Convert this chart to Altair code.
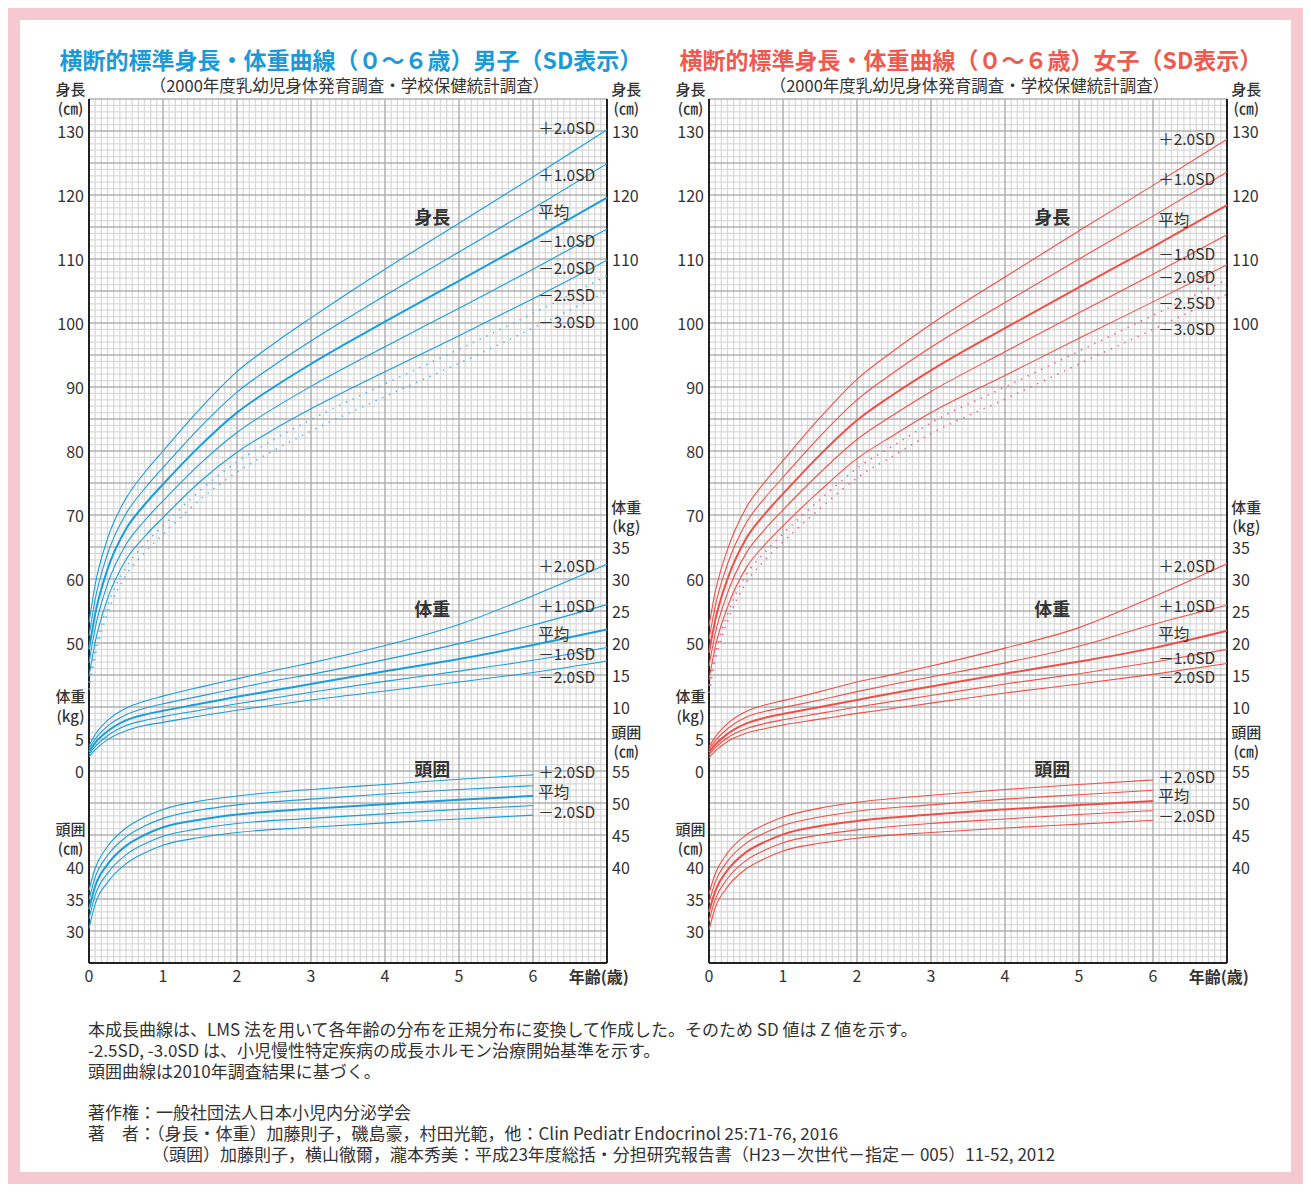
import altair as alt
import pandas as pd

FONT = "Noto Sans CJK JP"
TXT = "#333333"

# ---------------- data ----------------
AGES = [0, 0.083, 0.25, 0.5, 0.75, 1, 1.5, 2, 2.5, 3, 4, 5, 6, 7]
HEAD_AGES = [0, 0.083, 0.25, 0.5, 0.75, 1, 1.5, 2, 3, 4, 5, 6]
SD_NAMES = ["+2", "+1", "0", "-1", "-2", "-2.5", "-3"]
WEIGHT_OFFSET = 30   # weight kg drawn on the height scale at kg + 30
HEAD_OFFSET = -25    # head cm drawn on the height scale at cm - 25

# boys height (cm)
BH_P2 = [53.2, 59.1, 66.3, 72.6, 76.6, 80.0, 86.6, 92.4, 96.8, 100.8, 108.4, 115.6, 122.8, 130.2]
BH_P1 = [51.1, 56.8, 63.9, 70.2, 74.1, 77.4, 83.7, 89.2, 93.4, 97.2, 104.3, 111.1, 117.9, 124.9]
BH_M = [49.0, 54.5, 61.5, 67.8, 71.6, 74.8, 80.8, 86.0, 90.0, 93.6, 100.2, 106.6, 113.0, 119.6]
BH_M1 = [46.9, 52.3, 59.2, 65.4, 69.1, 72.2, 78.0, 82.9, 86.7, 90.1, 96.3, 102.3, 108.4, 114.7]
BH_M2 = [44.8, 50.1, 56.9, 63.0, 66.6, 69.6, 75.2, 79.8, 83.4, 86.6, 92.4, 98.0, 103.8, 109.8]
BH_M25 = [43.8, 49.0, 55.8, 61.8, 65.4, 68.3, 73.8, 78.3, 81.8, 84.9, 90.5, 95.9, 101.5, 107.4]
BH_M3 = [42.7, 47.9, 54.6, 60.6, 64.1, 67.0, 72.4, 76.7, 80.1, 83.1, 88.5, 93.7, 99.2, 104.9]
# boys weight (kg)
BW_P2 = [3.9, 5.7, 7.9, 9.8, 10.9, 11.7, 13.1, 14.4, 15.7, 16.9, 19.6, 22.9, 27.4, 32.3]
BW_P1 = [3.5, 5.0, 7.0, 8.8, 9.8, 10.5, 11.7, 12.9, 14.1, 15.1, 17.4, 19.9, 22.8, 26.0]
BW_M = [3.0, 4.4, 6.2, 7.9, 8.8, 9.4, 10.5, 11.6, 12.6, 13.6, 15.6, 17.5, 19.7, 22.1]
BW_M1 = [2.6, 3.8, 5.5, 7.1, 7.9, 8.5, 9.5, 10.5, 11.4, 12.3, 14.0, 15.6, 17.3, 19.3]
BW_M2 = [2.2, 3.3, 4.9, 6.3, 7.1, 7.6, 8.6, 9.5, 10.3, 11.1, 12.5, 13.9, 15.4, 17.2]
# boys head circumference (cm)
BC_P2 = [36.4, 39.8, 43.2, 46.1, 47.8, 49.0, 50.3, 51.1, 52.1, 52.9, 53.7, 54.4]
BC_P1 = [34.9, 38.4, 41.8, 44.7, 46.4, 47.6, 48.9, 49.7, 50.6, 51.4, 52.1, 52.7]
BC_M = [33.4, 37.0, 40.4, 43.3, 45.0, 46.2, 47.4, 48.2, 49.1, 49.8, 50.5, 51.1]
BC_M1 = [31.9, 35.6, 39.0, 41.9, 43.6, 44.8, 46.0, 46.8, 47.6, 48.3, 49.0, 49.6]
BC_M2 = [30.4, 34.2, 37.6, 40.5, 42.2, 43.4, 44.6, 45.4, 46.2, 46.9, 47.5, 48.1]

# girls height (cm)
GH_P2 = [52.7, 57.9, 64.6, 71.1, 75.1, 78.5, 85.2, 91.2, 95.7, 99.8, 107.2, 114.4, 121.5, 128.7]
GH_P1 = [50.6, 55.7, 62.3, 68.7, 72.6, 75.9, 82.3, 88.0, 92.3, 96.2, 103.2, 110.0, 116.7, 123.6]
GH_M = [48.5, 53.5, 60.0, 66.3, 70.1, 73.3, 79.4, 84.8, 88.9, 92.6, 99.2, 105.6, 111.9, 118.4]
GH_M1 = [46.4, 51.4, 57.8, 64.0, 67.7, 70.8, 76.6, 81.8, 85.7, 89.3, 95.5, 101.6, 107.6, 113.8]
GH_M2 = [44.3, 49.3, 55.6, 61.7, 65.3, 68.3, 73.8, 78.8, 82.5, 86.0, 91.8, 97.6, 103.3, 109.1]
GH_M25 = [43.3, 48.3, 54.5, 60.6, 64.1, 67.1, 72.4, 77.3, 80.9, 84.4, 90.0, 95.6, 101.2, 106.8]
GH_M3 = [42.2, 47.2, 53.4, 59.4, 62.9, 65.8, 71.0, 75.8, 79.3, 82.7, 88.1, 93.6, 99.0, 104.5]
# girls weight (kg)
GW_P2 = [3.8, 5.3, 7.4, 9.3, 10.3, 11.0, 12.4, 13.9, 15.1, 16.4, 19.2, 22.4, 27.2, 32.4]
GW_P1 = [3.4, 4.7, 6.6, 8.4, 9.3, 9.9, 11.1, 12.4, 13.6, 14.7, 16.9, 19.5, 22.9, 25.9]
GW_M = [2.95, 4.1, 5.8, 7.4, 8.3, 8.9, 10.0, 11.1, 12.2, 13.2, 15.2, 17.1, 19.2, 21.9]
GW_M1 = [2.5, 3.6, 5.2, 6.6, 7.4, 8.0, 9.0, 10.0, 10.9, 11.8, 13.6, 15.2, 17.0, 19.0]
GW_M2 = [2.1, 3.1, 4.6, 5.9, 6.6, 7.2, 8.1, 9.0, 9.8, 10.6, 12.2, 13.6, 15.1, 16.8]
# girls head circumference (cm)
GC_P2 = [35.8, 38.9, 42.2, 45.0, 46.6, 47.8, 49.2, 50.1, 51.2, 52.1, 52.9, 53.6]
GC_P1 = [34.4, 37.6, 40.9, 43.7, 45.3, 46.5, 47.8, 48.7, 49.7, 50.6, 51.3, 52.0]
GC_M = [33.0, 36.2, 39.5, 42.3, 43.9, 45.1, 46.4, 47.2, 48.2, 49.0, 49.7, 50.3]
GC_M1 = [31.6, 34.9, 38.2, 41.0, 42.6, 43.8, 45.0, 45.8, 46.8, 47.5, 48.2, 48.8]
GC_M2 = [30.2, 33.6, 36.9, 39.7, 41.3, 42.5, 43.7, 44.5, 45.4, 46.1, 46.7, 47.3]

# curve labels (text, value on the height scale)
LBL_TEXT_H = ["＋2.0SD", "＋1.0SD", "平均", "－1.0SD", "－2.0SD", "－2.5SD", "－3.0SD"]
LBL_TEXT_W = ["＋2.0SD", "＋1.0SD", "平均", "－1.0SD", "－2.0SD"]
LBL_TEXT_C = ["＋2.0SD", "平均", "－2.0SD"]
B_LBL_H = [130.3, 123.0, 117.2, 112.7, 108.4, 104.2, 100.0]
B_LBL_W = [61.9, 55.6, 51.25, 48.1, 44.5]
B_LBL_C = [29.7, 26.6, 23.4]
G_LBL_H = [128.6, 122.3, 115.9, 110.6, 107.0, 103.0, 98.9]
G_LBL_W = [61.9, 55.6, 51.25, 47.5, 44.5]
G_LBL_C = [28.9, 25.9, 22.8]
LBL_AGE = 6.07

SECTION_TEXT = ["身長", "体重", "頭囲"]
SECTION_V = [116.3, 55.0, 30.0]
SECTION_AGE = 4.64

UNIT_TEXT = ["身長", "(㎝)", "体重", "(kg)", "頭囲", "(㎝)",
             "身長", "(㎝)", "体重", "(kg)", "頭囲", "(㎝)"]
UNIT_AGE = [-0.25] * 6 + [7.26] * 6
UNIT_V = [136.4, 133.4, 41.6, 38.4, 20.8, 17.8,
          136.4, 133.4, 71.1, 68.1, 35.9, 32.9]

# axis tick positions (on the height scale) and their printed labels
LEFT_TICKS = [5, 10, 15, 30, 35, 50, 60, 70, 80, 90, 100, 110, 120, 130]
LEFT_LABELS = ["30", "35", "40", "0", "5", "50", "60", "70", "80", "90", "100", "110", "120", "130"]
RIGHT_TICKS = [15, 20, 25, 30, 40, 45, 50, 55, 60, 65, 100, 110, 120, 130]
RIGHT_LABELS = ["40", "45", "50", "55", "10", "15", "20", "25", "30", "35", "100", "110", "120", "130"]
X_TICKS = [0, 1, 2, 3, 4, 5, 6]
X_LABELS = ["0", "1", "2", "3", "4", "5", "6"]
X_LABEL_V = -2.2

H_MAJOR = list(range(0, 136, 5))
H_MINOR = [v for v in range(0, 136) if v % 5]
V_MAJOR = list(range(0, 8))
V_MINOR = [k / 12 for k in range(0, 85) if k % 12]

TITLE_B = "横断的標準身長・体重曲線（０～６歳）男子（SD表示）"
TITLE_G = "横断的標準身長・体重曲線（０～６歳）女子（SD表示）"
SUBTITLE = "（2000年度乳幼児身体発育調査・学校保健統計調査）"
XTITLE = "年齢(歳)"

FOOT_LINES = [
    "本成長曲線は、LMS 法を用いて各年齢の分布を正規分布に変換して作成した。そのため SD 値は Z 値を示す。",
    "-2.5SD, -3.0SD は、小児慢性特定疾病の成長ホルモン治療開始基準を示す。",
    "頭囲曲線は2010年調査結果に基づく。",
    "",
    "著作権：一般社団法人日本小児内分泌学会",
    "著　者：（身長・体重）加藤則子，磯島豪，村田光範，他：Clin Pediatr Endocrinol 25:71-76, 2016",
    "（頭囲）加藤則子，横山徹爾，瀧本秀美：平成23年度総括・分担研究報告書（H23－次世代－指定－ 005）11-52, 2012",
]
FOOT_INDENT_PX = [0, 0, 0, 0, 0, 0, 64]

W, H = 518, 864
PX_PER_UNIT = H / 135.0
PX_PER_YEAR = W / 7.0
XS = alt.Scale(domain=[0, 7], nice=False, zero=False)
YS = alt.Scale(domain=[0, 135], nice=False, zero=False)


def curve_rows(kind, ages, series, offset):
    rows = []
    for name, vals in series:
        style = "mean" if name == "0" else ("dot" if name in ("-2.5", "-3") else "thin")
        for a, val in zip(ages, vals):
            rows.append({"a": a, "v": val + offset, "key": kind + name, "style": style})
    return rows


def panel(hs, ws, cs, lbl_h, lbl_w, lbl_c, line_color, dot_color, title, title_color, extra):
    rows = []
    rows += curve_rows("h", AGES, zip(SD_NAMES, hs), 0)
    rows += curve_rows("w", AGES, zip(SD_NAMES[:5], ws), WEIGHT_OFFSET)
    rows += curve_rows("c", HEAD_AGES, zip(["+2", "+1", "0", "-1", "-2"], cs), HEAD_OFFSET)
    df = pd.DataFrame(rows)

    xenc = alt.X("a:Q", scale=XS, axis=None)
    yenc = alt.Y("v:Q", scale=YS, axis=None)

    hmin_df = pd.DataFrame({"v": H_MINOR, "a0": 0, "a1": 7})
    hmaj_df = pd.DataFrame({"v": H_MAJOR, "a0": 0, "a1": 7})
    vmin_df = pd.DataFrame({"a": V_MINOR, "v0": 0, "v1": 135})
    vmaj_df = pd.DataFrame({"a": V_MAJOR, "v0": 0, "v1": 135})
    a0 = alt.X("a0:Q", scale=XS, axis=None)
    v0 = alt.Y("v0:Q", scale=YS, axis=None)

    hmin = alt.Chart(hmin_df).mark_rule(color="#d9d9d9", strokeWidth=1.3).encode(y=yenc, x=a0, x2="a1:Q")
    vmin = alt.Chart(vmin_df).mark_rule(color="#d9d9d9", strokeWidth=1.3).encode(x=xenc, y=v0, y2="v1:Q")
    hmaj = alt.Chart(hmaj_df).mark_rule(color="#b0b0b0", strokeWidth=1.5).encode(y=yenc, x=a0, x2="a1:Q")
    vmaj = alt.Chart(vmaj_df).mark_rule(color="#b0b0b0", strokeWidth=1.5).encode(x=xenc, y=v0, y2="v1:Q")
    # black frame edges: left, right, bottom
    vedge = alt.Chart(pd.DataFrame({"a": [0, 7], "v0": 0, "v1": 135})).mark_rule(
        color="#222222", strokeWidth=2).encode(x=xenc, y=v0, y2="v1:Q")
    hedge = alt.Chart(pd.DataFrame({"v": [0], "a0": 0, "a1": 7})).mark_rule(
        color="#222222", strokeWidth=2).encode(y=yenc, x=a0, x2="a1:Q")

    thin = alt.Chart(df[df["style"] == "thin"]).mark_line(
        interpolate="monotone", color=line_color, strokeWidth=1.1).encode(x=xenc, y=yenc, detail="key:N")
    mean = alt.Chart(df[df["style"] == "mean"]).mark_line(
        interpolate="monotone", color=line_color, strokeWidth=2.0).encode(x=xenc, y=yenc, detail="key:N")
    dots = alt.Chart(df[df["style"] == "dot"]).mark_line(
        interpolate="monotone", color=dot_color, strokeWidth=1.6, strokeDash=[1.4, 6]).encode(
        x=xenc, y=yenc, detail="key:N")

    lbl = pd.DataFrame({
        "t": LBL_TEXT_H + LBL_TEXT_W + LBL_TEXT_C,
        "v": list(lbl_h) + list(lbl_w) + list(lbl_c),
        "a": LBL_AGE,
    })
    labels = alt.Chart(lbl).mark_text(align="left", baseline="middle", font=FONT, fontSize=15.5,
                                      color=TXT).encode(x=xenc, y=yenc, text="t:N")

    rt = pd.DataFrame({"v": RIGHT_TICKS, "t": RIGHT_LABELS, "a": 7})
    rlabels = alt.Chart(rt).mark_text(align="left", baseline="middle", dx=5, dy=2, font=FONT, fontSize=16,
                                      color=TXT).encode(x=xenc, y=yenc, text="t:N")
    lt = pd.DataFrame({"v": LEFT_TICKS, "t": LEFT_LABELS, "a": 0})
    llabels = alt.Chart(lt).mark_text(align="right", baseline="middle", dx=-5, dy=2, font=FONT, fontSize=16,
                                      color=TXT).encode(x=xenc, y=yenc, text="t:N")
    xtk = pd.DataFrame({"a": X_TICKS, "t": X_LABELS, "v": X_LABEL_V})
    xlabels = alt.Chart(xtk).mark_text(align="center", baseline="middle", font=FONT, fontSize=16,
                                       color=TXT).encode(x=xenc, y=yenc, text="t:N")

    sec = pd.DataFrame({"t": SECTION_TEXT, "v": SECTION_V, "a": SECTION_AGE})
    sections = alt.Chart(sec).mark_text(font=FONT, fontSize=18, fontWeight="bold", color=TXT).encode(
        x=xenc, y=yenc, text="t:N")

    unit = pd.DataFrame({"t": UNIT_TEXT, "v": UNIT_V, "a": UNIT_AGE})
    units = alt.Chart(unit).mark_text(font=FONT, fontSize=15, fontWeight=500, color=TXT).encode(
        x=xenc, y=yenc, text="t:N")

    ttl = alt.Chart(pd.DataFrame({"t": [title], "a": [3.54], "v": [140.85]})).mark_text(
        font=FONT, fontSize=23, fontWeight="bold", color=title_color).encode(x=xenc, y=yenc, text="t:N")
    sub = alt.Chart(pd.DataFrame({"t": [SUBTITLE], "a": [3.52], "v": [136.9]})).mark_text(
        font=FONT, fontSize=16.5, color=TXT).encode(x=xenc, y=yenc, text="t:N")
    xt = alt.Chart(pd.DataFrame({"t": [XTITLE], "a": [6.89], "v": [-2.3]})).mark_text(
        font=FONT, fontSize=16, fontWeight="bold", color=TXT).encode(x=xenc, y=yenc, text="t:N")

    layers = [hmin, vmin, hmaj, vmaj, vedge, hedge, dots, thin, mean, labels, rlabels, llabels, xlabels,
              sections, units, ttl, sub, xt]
    layers += extra
    return alt.layer(*layers).properties(width=W, height=H)


# footnote lines, placed under the boys panel (row index -> height-scale units)
foot_df = pd.DataFrame({"line": FOOT_LINES, "row": list(range(len(FOOT_LINES))), "indent": FOOT_INDENT_PX})
foot_df["v"] = -(68 + foot_df["row"] * 20.8) / PX_PER_UNIT
foot_df["a"] = (foot_df["indent"] - 1) / PX_PER_YEAR
foot = alt.Chart(foot_df).mark_text(align="left", baseline="middle", font=FONT, fontSize=17,
                                    color=TXT).encode(
    x=alt.X("a:Q", scale=XS, axis=None), y=alt.Y("v:Q", scale=YS, axis=None), text="line:N")

# pink page frame (decoration), drawn last on the girls panel
frame = alt.Chart(pd.DataFrame({"k": [0]})).mark_rect(
    fillOpacity=0, stroke="#f5c8d2", strokeWidth=12).encode(
    x=alt.value(-695), x2=alt.value(588), y=alt.value(-85), y2=alt.value(1079))

boys = panel([BH_P2, BH_P1, BH_M, BH_M1, BH_M2, BH_M25, BH_M3],
             [BW_P2, BW_P1, BW_M, BW_M1, BW_M2],
             [BC_P2, BC_P1, BC_M, BC_M1, BC_M2],
             B_LBL_H, B_LBL_W, B_LBL_C, "#1a9ddb", "#5ab6e4", TITLE_B, "#1b9ad6", [foot])
girls = panel([GH_P2, GH_P1, GH_M, GH_M1, GH_M2, GH_M25, GH_M3],
              [GW_P2, GW_P1, GW_M, GW_M1, GW_M2],
              [GC_P2, GC_P1, GC_M, GC_M1, GC_M2],
              G_LBL_H, G_LBL_W, G_LBL_C, "#ef4f48", "#e8609a", TITLE_G, "#ee5a50", [frame])

chart = alt.hconcat(boys, girls, spacing=102, bounds="flush").properties(
    padding=0, background="white").configure_view(stroke=None)

chart.save("out.html", embed_options={"renderer": "svg", "actions": False})
